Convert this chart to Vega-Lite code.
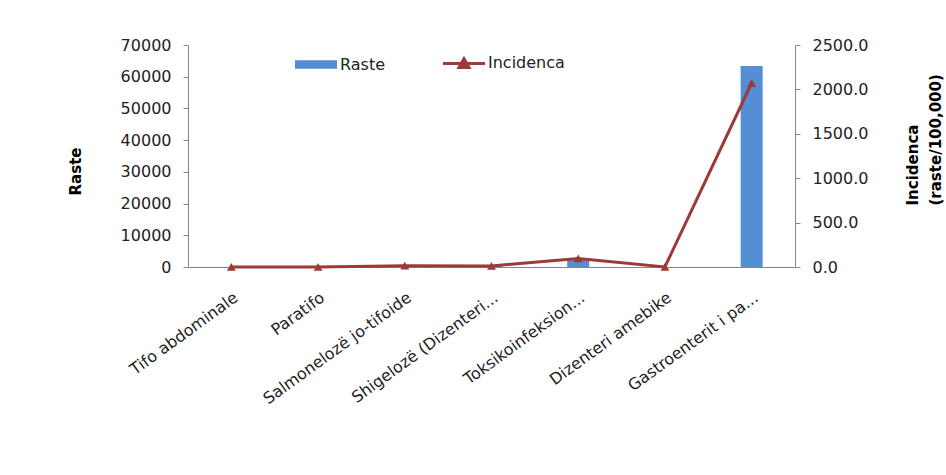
{
  "$schema": "https://vega.github.io/schema/vega-lite/v6.json",
  "autosize": {"type": "none"},
  "padding": {"left": 188, "top": 45, "right": 151, "bottom": 208},
  "width": 607,
  "height": 222,
  "background": "white",
  "config": {
    "view": {"stroke": null},
    "font": "DejaVu Sans",
    "axis": {
      "labelFont": "DejaVu Sans",
      "labelFontSize": 16,
      "labelColor": "#222222",
      "titleFont": "DejaVu Sans",
      "titleFontSize": 15,
      "titleFontWeight": "bold",
      "titleColor": "#000000",
      "domainColor": "#868686",
      "tickColor": "#868686",
      "grid": false
    }
  },
  "data": {
    "values": [
      {"semundja": "Tifo abdominale", "raste": 6, "incidenca": 0.2},
      {"semundja": "Paratifo", "raste": 3, "incidenca": 0.1},
      {"semundja": "Salmonelozë jo-tifoide", "raste": 420, "incidenca": 14.5},
      {"semundja": "Shigelozë (Dizenteri...", "raste": 330, "incidenca": 11.4},
      {"semundja": "Toksikoinfeksion...", "raste": 2800, "incidenca": 97},
      {"semundja": "Dizenteri amebike", "raste": 20, "incidenca": 0.7},
      {"semundja": "Gastroenterit i pa...", "raste": 63400, "incidenca": 2072}
    ]
  },
  "encoding": {
    "x": {
      "field": "semundja",
      "type": "nominal",
      "sort": null,
      "scale": {"paddingInner": 0, "paddingOuter": 0},
      "axis": {
        "title": null,
        "labelAngle": -36,
        "labelAlign": "right",
        "labelBaseline": "top",
        "labelPadding": 22,
        "ticks": false,
        "labelLimit": 300
      }
    }
  },
  "layer": [
    {
      "mark": {"type": "bar", "width": {"band": 0.254}},
      "encoding": {
        "y": {
          "field": "raste",
          "type": "quantitative",
          "scale": {"domain": [0, 70000], "nice": false},
          "axis": {
            "title": "Raste",
            "values": [0, 10000, 20000, 30000, 40000, 50000, 60000, 70000],
            "format": "d",
            "tickSize": 5,
            "labelPadding": 12,
            "titlePadding": 37,
            "titleY": 126
          }
        },
        "color": {
          "datum": "Raste",
          "type": "nominal",
          "scale": {"domain": ["Raste", "Incidenca"], "range": ["#558ED5", "#9B3A37"]},
          "legend": {
            "title": null,
            "orient": "none",
            "legendX": 120,
            "legendY": 10,
            "direction": "horizontal",
            "labelFont": "DejaVu Sans",
            "labelFontSize": 16,
            "labelColor": "#222222",
            "symbolSize": 1764,
            "labelOffset": 16,
            "columnPadding": 51,
            "encode": {
              "symbols": {
                "update": {
                  "shape": {"signal": "datum.value == 'Raste' ? 'M-1,-0.2H1V0.2H-1Z' : 'M-1,0H1M-0.24,0.2L0,-0.22L0.24,0.2Z'"},
                  "fill": {"signal": "datum.value == 'Raste' ? '#558ED5' : '#9B3A37'"},
                  "stroke": {"signal": "datum.value == 'Raste' ? '#558ED5' : '#9B3A37'"},
                  "strokeWidth": {"signal": "datum.value == 'Raste' ? 0 : 3"},
                  "opacity": {"value": 1}
                }
              }
            }
          }
        }
      }
    },
    {
      "mark": {
        "type": "line",
        "strokeWidth": 3,
        "point": {"shape": "triangle-up", "size": 80, "filled": true, "opacity": 1}
      },
      "encoding": {
        "y": {
          "field": "incidenca",
          "type": "quantitative",
          "scale": {"domain": [0, 2500], "nice": false},
          "axis": {
            "orient": "right",
            "title": ["Incidenca", "(raste/100,000)"],
            "titleAngle": -90,
            "titleAlign": "left",
            "titleY": 160,
            "titleLineHeight": 23,
            "values": [0, 500, 1000, 1500, 2000, 2500],
            "format": ".1f",
            "tickSize": 5,
            "labelPadding": 12,
            "titlePadding": 30
          }
        },
        "color": {"datum": "Incidenca", "type": "nominal"}
      }
    }
  ],
  "resolve": {"scale": {"y": "independent"}}
}
